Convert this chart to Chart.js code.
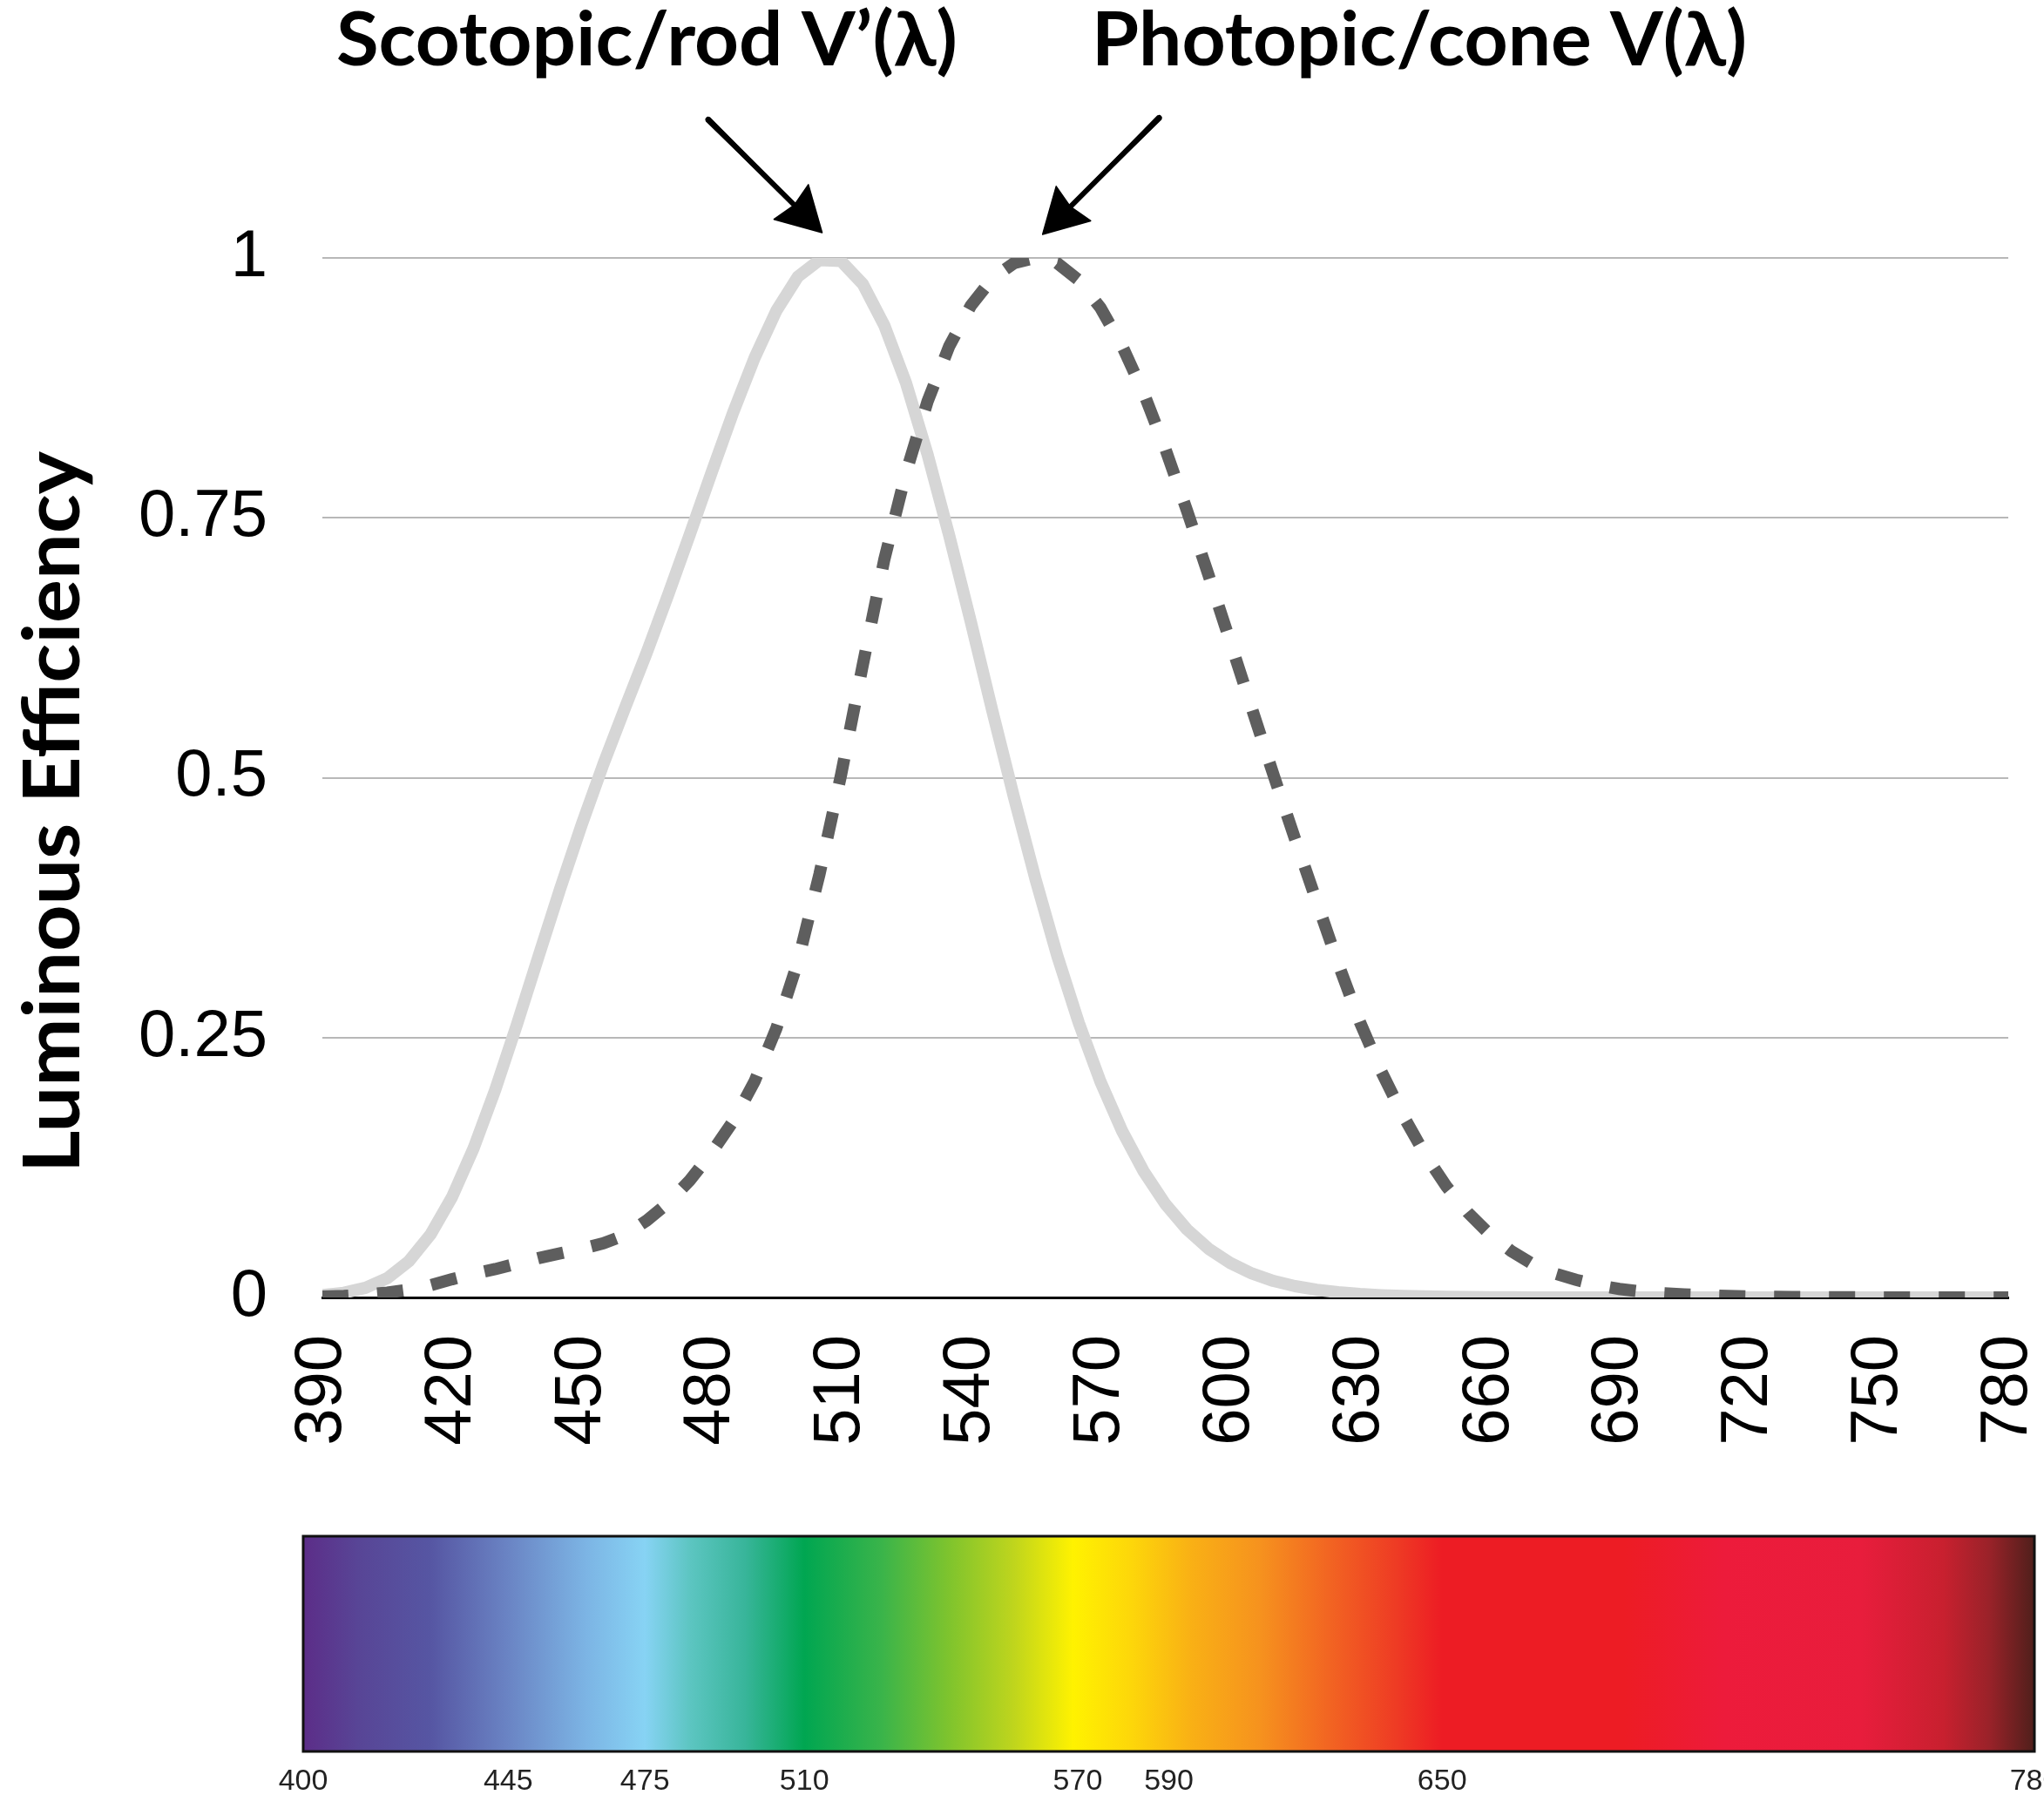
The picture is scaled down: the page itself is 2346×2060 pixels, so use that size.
<!DOCTYPE html>
<html>
<head>
<meta charset="utf-8">
<title>Luminous Efficiency</title>
<script src="https://cdn.jsdelivr.net/npm/chart.js@4.4.1/dist/chart.umd.min.js"></script>
<style>
	html, body { margin: 0; padding: 0; background: #fff; }
	#contenedor { position: relative; width: 2346px; height: 2060px; }
	#curvas { position: absolute; left: 0; top: 0; }
	#espectro { position: absolute; left: 0; top: 1700px; }
</style>
</head>
<body>
<div id="contenedor">
	<canvas id="curvas" width="2346" height="1700"></canvas>
	<canvas id="espectro" width="2346" height="360"></canvas>
</div>
<script>

	// Longitudes de onda (nm), cada 5 nm
	const longitudes = [
		390, 395, 400, 405, 410, 415, 420, 425, 430, 435, 440, 445, 450, 455, 460, 465, 470, 475, 480, 485,
		490, 495, 500, 505, 510, 515, 520, 525, 530, 535, 540, 545, 550, 555, 560, 565, 570, 575, 580, 585,
		590, 595, 600, 605, 610, 615, 620, 625, 630, 635, 640, 645, 650, 655, 660, 665, 670, 675, 680, 685,
		690, 695, 700, 705, 710, 715, 720, 725, 730, 735, 740, 745, 750, 755, 760, 765, 770, 775, 780
	];

	// Curva fotopica (conos) V(λ)
	const fotopica = [
		0.0008, 0.0015, 0.0028, 0.0047, 0.0074, 0.0118, 0.0175, 0.0227, 0.0273, 0.0326, 0.0379, 0.0424, 0.0468, 0.0521, 0.0600, 0.0739, 0.0910, 0.1126, 0.1390, 0.1693,
		0.2080, 0.2586, 0.3230, 0.4073, 0.5030, 0.6082, 0.7100, 0.7932, 0.8620, 0.9149, 0.9540, 0.9803, 0.9950, 1.0000, 0.9950, 0.9786, 0.9520, 0.9154, 0.8700, 0.8163,
		0.7570, 0.6949, 0.6310, 0.5668, 0.5030, 0.4412, 0.3810, 0.3210, 0.2650, 0.2170, 0.1750, 0.1382, 0.1070, 0.0816, 0.0610, 0.0446, 0.0320, 0.0232, 0.0170, 0.0119,
		0.0082, 0.0057, 0.0041, 0.0029, 0.0021, 0.0015, 0.0010, 0.0007, 0.0005, 0.0004, 0.0002, 0.0002, 0.0001, 0.0001, 0.0001, 0, 0, 0, 0
	];

	// Curva escotopica (bastones) V'(λ)
	const escotopica = [
		0.0022, 0.0045, 0.0093, 0.0185, 0.0348, 0.0604, 0.0966, 0.1436, 0.1998, 0.2625, 0.3281, 0.3931, 0.4550, 0.5130, 0.5670, 0.6200, 0.6760, 0.7340, 0.7930, 0.8510,
		0.9040, 0.9490, 0.9820, 0.9980, 0.9970, 0.9750, 0.9350, 0.8800, 0.8110, 0.7330, 0.6500, 0.5640, 0.4810, 0.4020, 0.3288, 0.2639, 0.2076, 0.1602, 0.1212, 0.0899,
		0.0655, 0.0469, 0.0332, 0.0231, 0.0159, 0.0109, 0.0074, 0.0050, 0.0033, 0.0022, 0.0015, 0.0010, 0.0007, 0.0005, 0.0003, 0.0002, 0.0001, 0.0001, 0,
		0, 0, 0, 0, 0, 0, 0, 0, 0, 0, 0, 0, 0, 0, 0, 0, 0, 0, 0, 0
	];

	const ticksX = [390, 420, 450, 480, 510, 540, 570, 600, 630, 660, 690, 720, 750, 780];
	const ticksY = [0, 0.25, 0.5, 0.75, 1];

	const rotuloEscotopica = 'Scotopic/rod V’(λ)';
	const rotuloFotopica = 'Photopic/cone V(λ)';
	const tituloEjeY = 'Luminous Efficiency';

	// Barra del espectro visible
	const espectroTicks = [400, 445, 475, 510, 570, 590, 650, 780];
	const espectroNm = [400, 412, 428, 445, 462, 475, 485, 497, 510, 527, 542, 556, 569, 582, 595, 610, 625, 640, 650, 690, 712, 742, 760, 770, 780];
	const espectroColores = [
		'#5c2d88', '#584596', '#5656a3', '#6a84c4', '#7cb4e4', '#87d3f4', '#5cc5c1', '#38b59a', '#00a651', '#3ab44a',
		'#80c42d', '#bfd51d', '#fff200', '#fdd60a', '#f9b015', '#f6921e', '#f26522', '#ee3b24', '#ed1c24', '#ed1c24',
		'#ed1b3b', '#e81d3c', '#c8202f', '#9a2229', '#4f1f1b'
	];

	const fuenteEjes = 'Liberation Sans, Arial, sans-serif';
	const fuenteTitulos = 'Lato, Noto Sans, sans-serif';

	// Texto estirado o comprimido para ocupar un ancho dado
	const textoAjustado = function(ctx, texto, x, y, ancho, fuente, angulo){
		ctx.save();
		ctx.font = fuente;
		let w = ctx.measureText(texto).width;
		ctx.translate(x, y);
		ctx.rotate(angulo || 0);
		ctx.scale(ancho / w, 1);
		ctx.fillStyle = '#000';
		ctx.textBaseline = 'alphabetic';
		ctx.textAlign = angulo ? 'center' : 'left';
		ctx.fillText(texto, 0, 0);
		ctx.restore();
	};

	// Flecha con trazo a mano alzada
	const flecha = function(ctx, x0, y0, x1, y1){
		let dx = x1 - x0, dy = y1 - y0;
		let largo = Math.hypot(dx, dy);
		let ux = dx / largo, uy = dy / largo;
		let nx = -uy, ny = ux;
		let punta = 50, media = 28;
		let bx = x1 - ux * punta, by = y1 - uy * punta;

		ctx.save();
		ctx.strokeStyle = '#000';
		ctx.fillStyle = '#000';
		ctx.lineCap = 'round';
		[[0, 6], [2.5, 2], [-2.5, 2], [1.2, 1.5], [-1, 1.5]].forEach(function(t){
			ctx.lineWidth = t[1];
			ctx.beginPath();
			ctx.moveTo(x0 + nx * t[0], y0 + ny * t[0]);
			ctx.lineTo(bx + nx * t[0] * 0.4 + ux * 8, by + ny * t[0] * 0.4 + uy * 8);
			ctx.stroke();
		});
		ctx.beginPath();
		ctx.moveTo(x1, y1);
		ctx.lineTo(bx + nx * media, by + ny * media);
		ctx.lineTo(bx + ux * 5, by + uy * 5);
		ctx.lineTo(bx - nx * media, by - ny * media);
		ctx.closePath();
		ctx.fill();
		ctx.lineWidth = 1.5;
		ctx.lineJoin = 'round';
		ctx.stroke();
		ctx.restore();
	};

	// Rotulos superiores, flechas hacia los picos y titulo del eje Y
	const anotaciones = {
		id: 'anotaciones',
		afterDraw: function(chart){
			let ctx = chart.ctx;
			let x = chart.scales.x, y = chart.scales.y;

			textoAjustado(ctx, rotuloEscotopica, 386, 75, 713, 'bold 86px ' + fuenteTitulos);
			textoAjustado(ctx, rotuloFotopica, 1253, 75, 752, 'bold 86px ' + fuenteTitulos);
			textoAjustado(ctx, tituloEjeY, 91, 932, 828, 'bold 90px ' + fuenteTitulos, -Math.PI / 2);

			let iEsc = escotopica.indexOf(Math.max.apply(null, escotopica));
			let iFot = fotopica.indexOf(Math.max.apply(null, fotopica));

			let tx = x.getPixelForValue(longitudes[iEsc]) + 3;
			let ty = y.getPixelForValue(1) - 29;
			flecha(ctx, tx - 131, ty - 130, tx, ty);

			tx = x.getPixelForValue(longitudes[iFot]) + 8;
			ty = y.getPixelForValue(1) - 27;
			flecha(ctx, tx + 134, ty - 134, tx, ty);
		}
	};

	const puntos = function(valores){
		return longitudes.map(function(l, i){ return {x: l, y: valores[i]}; });
	};

	new Chart(document.getElementById('curvas').getContext('2d'), {
		type: 'line',
		data: {
			datasets: [
				{
					label: rotuloFotopica,
					data: puntos(fotopica),
					borderColor: '#5e5e5e',
					borderWidth: 14,
					borderDash: [30, 33],
					borderCapStyle: 'butt',
					pointRadius: 0,
					tension: 0
				},
				{
					label: rotuloEscotopica,
					data: puntos(escotopica),
					borderColor: '#d6d6d6',
					borderWidth: 14,
					borderJoinStyle: 'round',
					pointRadius: 0,
					tension: 0
				}
			]
		},
		options: {
			responsive: false,
			animation: false,
			devicePixelRatio: 1,
			layout: { padding: { top: 296, left: 0, right: 41, bottom: 11 } },
			plugins: { legend: { display: false }, tooltip: { enabled: false } },
			scales: {
				x: {
					type: 'linear',
					min: 390,
					max: 780,
					afterBuildTicks: function(s){ s.ticks = ticksX.map(function(v){ return {value: v}; }); },
					afterFit: function(s){ s.height = 200; s.paddingLeft = 0; s.paddingRight = 0; },
					grid: { display: false, drawTicks: false },
					border: { display: true, color: '#000', width: 3 },
					ticks: {
						autoSkip: false,
						minRotation: 90,
						maxRotation: 90,
						padding: 43,
						color: '#000',
						font: { family: fuenteEjes, size: 76 },
						callback: function(v){ return String(v); }
					}
				},
				y: {
					min: 0,
					max: 1,
					afterBuildTicks: function(s){ s.ticks = ticksY.map(function(v){ return {value: v}; }); },
					afterFit: function(s){ s.width = 370; s.paddingTop = 0; s.paddingBottom = 0; },
					grid: { color: '#b8b8b8', lineWidth: 2, drawTicks: false },
					border: { display: false },
					ticks: {
						padding: 63,
						color: '#000',
						font: { family: fuenteEjes, size: 76 },
						callback: function(v){ return String(v); }
					}
				}
			}
		},
		plugins: [anotaciones]
	});

	// Degradado del espectro dentro del area del grafico
	const barraEspectro = {
		id: 'barraEspectro',
		beforeDatasetsDraw: function(chart){
			let ctx = chart.ctx;
			let a = chart.chartArea;
			let x = chart.scales.x;
			let grad = ctx.createLinearGradient(a.left, 0, a.right, 0);
			espectroNm.forEach(function(nm, i){
				grad.addColorStop((x.getPixelForValue(nm) - a.left) / (a.right - a.left), espectroColores[i]);
			});
			ctx.save();
			ctx.fillStyle = grad;
			ctx.fillRect(a.left, a.top, a.right - a.left, a.bottom - a.top);
			ctx.lineWidth = 3;
			ctx.strokeStyle = '#111';
			ctx.strokeRect(a.left, a.top, a.right - a.left, a.bottom - a.top);
			ctx.restore();
		}
	};

	new Chart(document.getElementById('espectro').getContext('2d'), {
		type: 'scatter',
		data: { datasets: [] },
		options: {
			responsive: false,
			animation: false,
			devicePixelRatio: 1,
			layout: { padding: { top: 63, left: 348, right: 11, bottom: 0 } },
			plugins: { legend: { display: false }, tooltip: { enabled: false } },
			scales: {
				x: {
					type: 'linear',
					min: 400,
					max: 780,
					afterBuildTicks: function(s){ s.ticks = espectroTicks.map(function(v){ return {value: v}; }); },
					afterFit: function(s){ s.height = 50; s.paddingLeft = 0; s.paddingRight = 0; },
					grid: { display: false, drawTicks: false },
					border: { display: false },
					ticks: {
						autoSkip: false,
						maxRotation: 0,
						padding: 14,
						color: '#222',
						font: { family: fuenteEjes, size: 34 },
						callback: function(v){ return String(v); }
					}
				},
				y: { display: false, min: 0, max: 1 }
			}
		},
		plugins: [barraEspectro]
	});

</script>
</body>
</html>
